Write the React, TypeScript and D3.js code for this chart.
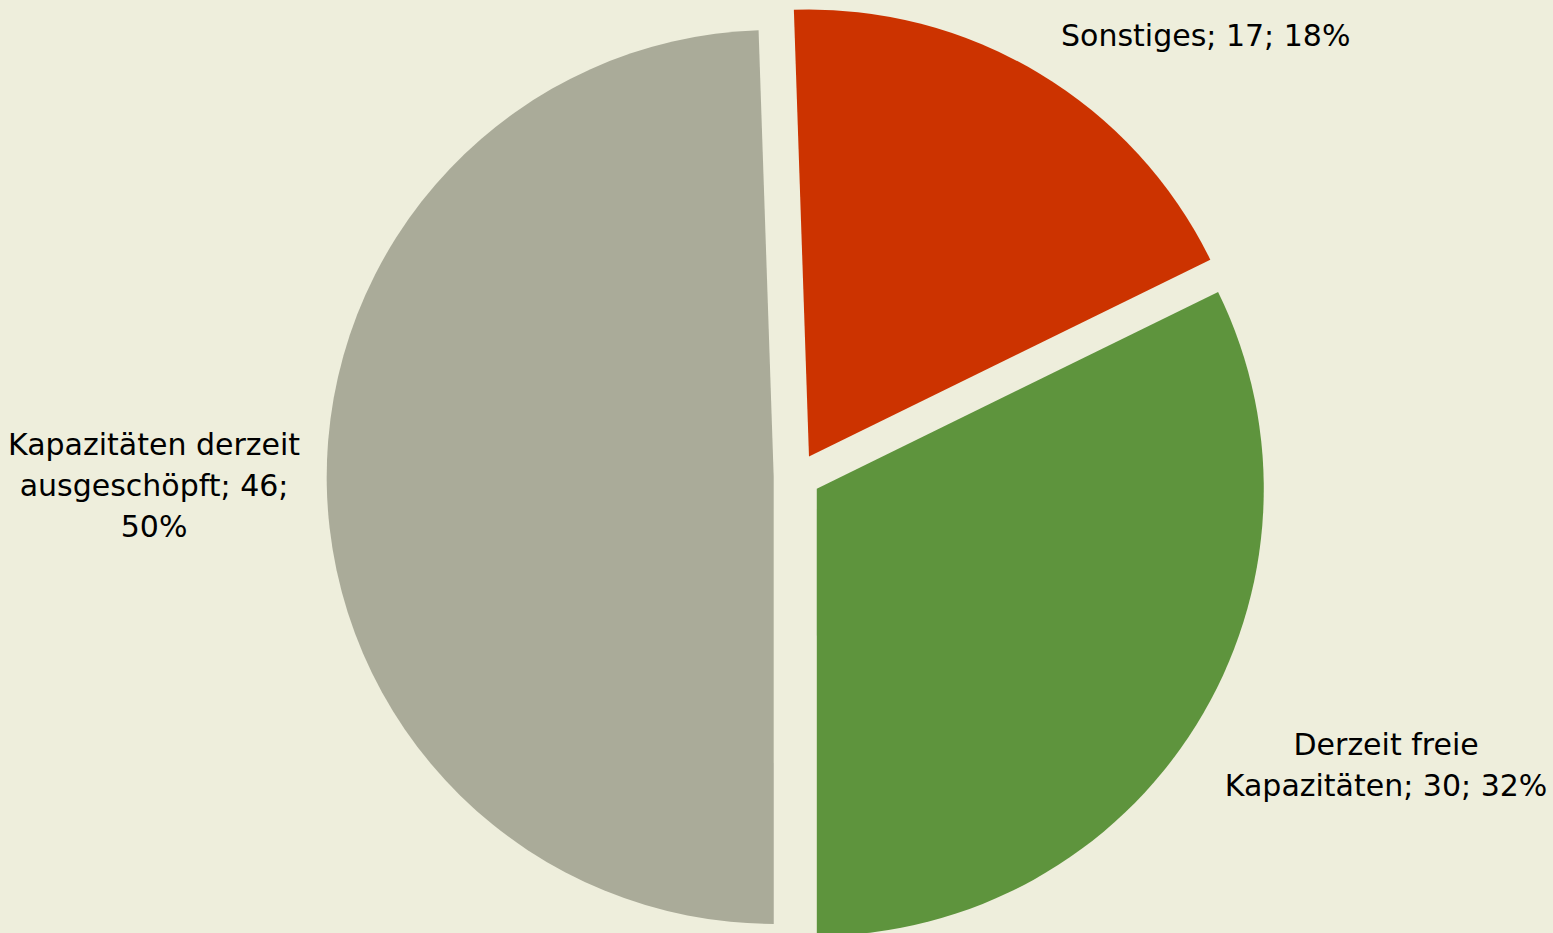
import React from "react";
import * as d3 from "d3";

const categories = ["Sonstiges", "Derzeit freie Kapazitäten", "Kapazitäten derzeit ausgeschöpft"];
const values = [17, 30, 46];
const percents = ["18%", "32%", "50%"];
const labelLines = [
  ["Sonstiges; 17; 18%"],
  ["Derzeit freie", "Kapazitäten; 30; 32%"],
  ["Kapazitäten derzeit", "ausgeschöpft; 46;", "50%"],
];
const colors = ["#CC3300", "#5E943D", "#AAAB99"];

const W = 1553;
const H = 933;
const CX = 797;
const CY = 476.5;
const R = 447;
const EXPLODE = 23.3;
const START_DEG = -1.94;
// label placement: angle (deg, clockwise from top) and distance from pie center
const labelPlace = [
  { a: 42.85, d: 601 },
  { a: 116.1, d: 656 },
  { a: 269.2, d: 643 },
];
const FONT = 30;
const LINE = 41;

export default function App() {
  const start = (START_DEG * Math.PI) / 180;
  const pie = d3
    .pie<number>()
    .sort(null)
    .startAngle(start)
    .endAngle(start + 2 * Math.PI)
    .value((d) => d)(values);
  const arc = d3.arc<d3.PieArcDatum<number>>().innerRadius(0).outerRadius(R);
  return (
    <div style={{ position: "fixed", left: 0, top: 0 }}>
      <svg width={W} height={H} style={{ display: "block" }}>
        <rect x={0} y={0} width={W} height={H} fill="#EEEEDC" />
        <g transform={`translate(${CX},${CY})`}>
          {pie.map((p, i) => {
            const mid = (p.startAngle + p.endAngle) / 2;
            const dx = Math.sin(mid) * EXPLODE;
            const dy = -Math.cos(mid) * EXPLODE;
            return (
              <path key={i} d={arc(p) || ""} fill={colors[i]} transform={`translate(${dx},${dy})`} />
            );
          })}
          {labelLines.map((lines, i) => {
            const a = (labelPlace[i].a * Math.PI) / 180;
            const x = Math.sin(a) * labelPlace[i].d;
            const y = -Math.cos(a) * labelPlace[i].d;
            const y0 = y - ((lines.length - 1) * LINE) / 2;
            return (
              <text
                key={i}
                textAnchor="middle"
                fontFamily="DejaVu Sans, sans-serif"
                fontSize={FONT}
                fill="#000"
              >
                {lines.map((l, j) => (
                  <tspan key={j} x={x} y={y0 + j * LINE} dy="0.35em">
                    {l}
                  </tspan>
                ))}
              </text>
            );
          })}
        </g>
      </svg>
    </div>
  );
}
